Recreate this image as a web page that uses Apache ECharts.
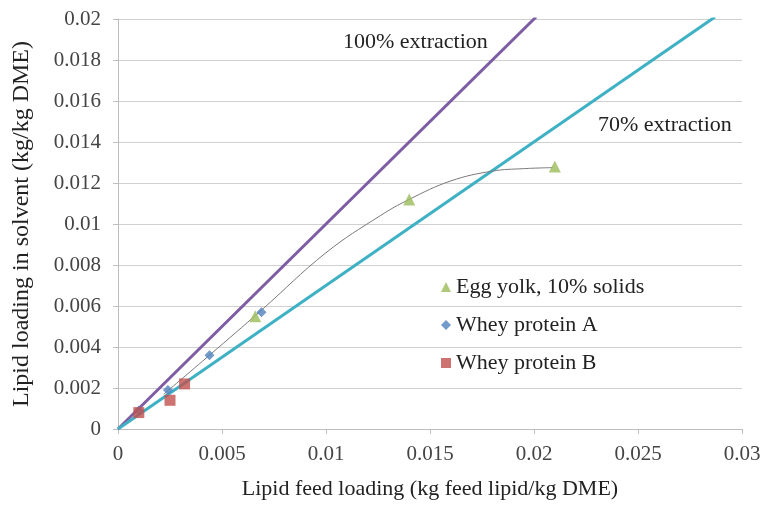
<!DOCTYPE html>
<html><head><meta charset="utf-8">
<script src="https://cdn.jsdelivr.net/npm/echarts@6/dist/echarts.min.js"></script>
<style>html,body{margin:0;padding:0;background:#fff}#c{width:767px;height:505px}</style>
</head><body><div id="c"></div>
<script>
const xTicks = [0, 0.005, 0.01, 0.015, 0.02, 0.025, 0.03];
const yTicks = [0, 0.002, 0.004, 0.006, 0.008, 0.01, 0.012, 0.014, 0.016, 0.018, 0.02];
const eggYolk = [[0.0066, 0.0055], [0.0140, 0.0112], [0.0210, 0.0128]];
const wheyA = [[0.0010, 0.0009], [0.0024, 0.0019], [0.0044, 0.0036], [0.0069, 0.0057]];
const wheyB = [[0.0010, 0.0008], [0.0025, 0.0014], [0.0032, 0.0022]];
const line100 = [[0, 0], [0.0201, 0.0201]];
const line70 = [[0, 0], [0.0287, 0.0201]];
const trend = [[0.0022, 0.0017], [0.0044, 0.0036], [0.0069, 0.0058], [0.0100, 0.0086], [0.0126, 0.0104], [0.0140, 0.0112], [0.0160, 0.0121], [0.0180, 0.01258], [0.0195, 0.0127], [0.0209, 0.01275]];
const font = '"Liberation Serif", "DejaVu Serif", serif';

const chart = echarts.init(document.getElementById('c'));
chart.setOption({
  animation: false,
  backgroundColor: '#fff',
  grid: {left: 118, right: 25, top: 19, bottom: 71},
  xAxis: {
    type: 'value', min: 0, max: 0.03, interval: 0.005,
    name: 'Lipid feed loading (kg feed lipid/kg DME)', nameLocation: 'middle', nameGap: 49,
    nameTextStyle: {fontFamily: font, fontSize: 22, color: '#222'},
    axisLine: {lineStyle: {color: '#bdbdbd', width: 1}},
    axisTick: {show: true, length: 5, lineStyle: {color: '#bdbdbd'}},
    axisLabel: {fontFamily: font, fontSize: 21, color: '#444', margin: 15,
      formatter: v => String(+v.toFixed(3))},
    splitLine: {show: false}
  },
  yAxis: {
    type: 'value', min: 0, max: 0.02, interval: 0.002,
    name: 'Lipid loading in solvent (kg/kg DME)', nameLocation: 'middle', nameGap: 84,
    nameTextStyle: {fontFamily: font, fontSize: 24, color: '#222'},
    axisLine: {show: true, lineStyle: {color: '#bdbdbd', width: 1}},
    axisTick: {show: true, length: 5, lineStyle: {color: '#bdbdbd'}},
    axisLabel: {fontFamily: font, fontSize: 21, color: '#444', margin: 17,
      formatter: v => String(+v.toFixed(3))},
    splitLine: {show: true, lineStyle: {color: '#d0d0d0', width: 1}}
  },
  legend: {
    show: true, orient: 'vertical', left: 436, top: 271, itemGap: 16,
    itemWidth: 10, itemHeight: 10,
    textStyle: {fontFamily: font, fontSize: 22, color: '#222'},
    data: ['Egg yolk, 10% solids', 'Whey protein A', 'Whey protein B']
  },
  series: [
    {type: 'line', name: '100%', data: line100, showSymbol: false, symbol: 'none',
     lineStyle: {color: '#7d5ea3', width: 3}, z: 2},
    {type: 'line', name: '70%', data: line70, showSymbol: false, symbol: 'none',
     lineStyle: {color: '#3fb1c4', width: 3}, z: 2},
    {type: 'line', name: 'trend', data: trend, smooth: 0.4, showSymbol: false, symbol: 'none',
     lineStyle: {color: '#7a7a7a', width: 1}, z: 3},
    {type: 'scatter', name: 'Egg yolk, 10% solids', data: eggYolk, symbol: 'triangle', symbolSize: 12,
     itemStyle: {color: '#9bbb59'}, z: 5},
    {type: 'scatter', name: 'Whey protein A', data: wheyA, symbol: 'diamond', symbolSize: 10,
     itemStyle: {color: '#4f81bd'}, z: 5},
    {type: 'scatter', name: 'Whey protein B', data: wheyB, symbol: 'rect', symbolSize: 11,
     itemStyle: {color: '#c0504d'}, z: 6}
  ],
  graphic: [
    {type: 'text', left: 343, top: 31, style: {text: '100% extraction', font: '22px ' + font, fill: '#222'}},
    {type: 'text', left: 598, top: 114, style: {text: '70% extraction', font: '22px ' + font, fill: '#222'}}
  ]
});
</script></body></html>
